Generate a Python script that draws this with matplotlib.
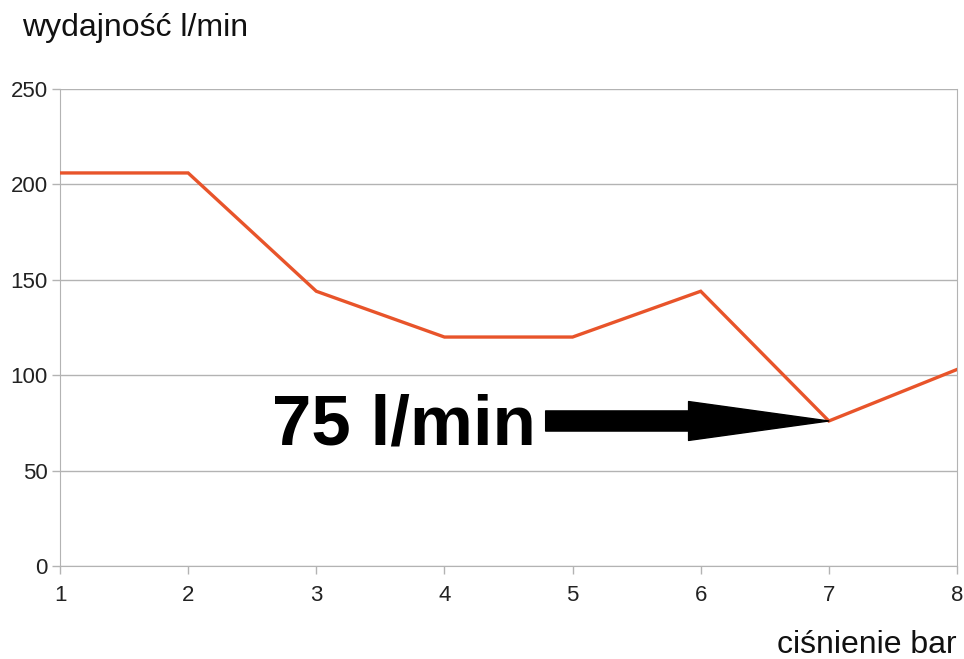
import matplotlib
matplotlib.use("Agg")
import matplotlib.pyplot as plt

plt.rcParams['font.family'] = ['Liberation Sans', 'DejaVu Sans']

# pressure (bar) vs flow (l/min)
cisnienie = [1, 2, 3, 4, 5, 6, 7, 8]
wydajnosc = [206, 206, 144, 120, 120, 144, 76, 103]
y_ticks = [0, 50, 100, 150, 200, 250]

fig = plt.figure(figsize=(9.64, 6.59), dpi=100)
ax = fig.add_axes([60 / 964, 1 - 566 / 659, (957 - 60) / 964, (566 - 89) / 659])

ax.plot(cisnienie, wydajnosc, color='#E8542A', lw=2.4, solid_joinstyle='miter', zorder=3)

ax.set_xlim(1, 8)
ax.set_ylim(0, 250)
ax.set_xticks(cisnienie)
ax.set_yticks(y_ticks)
ax.grid(axis='y', color='#b3b3b3', lw=1)
ax.tick_params(axis='both', colors='#b3b3b3', labelcolor='#222222', labelsize=16, length=6, width=1)
ax.tick_params(axis='x', pad=8)
ax.tick_params(axis='y', pad=3)
for s in ['left', 'bottom', 'right']:
    ax.spines[s].set_color('#b3b3b3')
ax.spines['top'].set_visible(False)

# arrow pointing at the value at 7 bar
ax.annotate('', xy=(7, 76), xytext=(4.79, 76),
            arrowprops=dict(arrowstyle='simple,head_length=101,head_width=28,tail_width=14.5',
                            mutation_scale=1, color='black', shrinkA=0, shrinkB=0), zorder=4)
ax.text(4.71, 73, '75 l/min', fontsize=51, fontweight='bold', ha='right', va='center', color='black')

fig.text(22 / 964, 1 - 28 / 659, 'wydajność l/min', fontsize=23, va='center', ha='left', color='#111111')
fig.text(957 / 964, 1 - 645 / 659, 'ciśnienie bar', fontsize=23, va='center', ha='right', color='#111111')

fig.savefig('out.png', dpi=100)
